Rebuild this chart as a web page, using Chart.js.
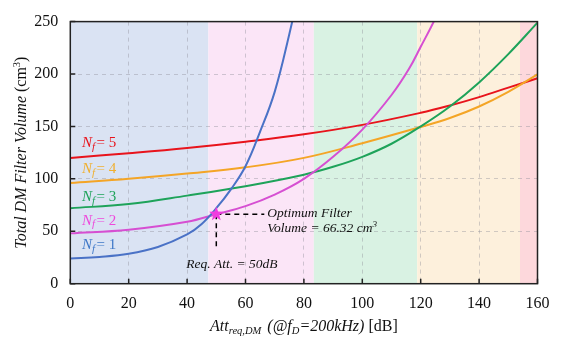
<!DOCTYPE html>
<html>
<head>
<meta charset="utf-8">
<script src="https://cdn.jsdelivr.net/npm/chart.js@4/dist/chart.umd.min.js"></script>
<style>
  html, body { margin: 0; padding: 0; background: #fff; }
  #wrap { width: 563px; height: 342px; position: relative; }
</style>
</head>
<body>
<div id="wrap"><canvas id="volChart"></canvas></div>
<script>
// Filter volume vs required attenuation, one curve per number of stages

const xTicks = [0, 20, 40, 60, 80, 100, 120, 140, 160];
const yTicks = [0, 50, 100, 150, 200, 250];

const nf1X = [0, 10, 20, 30, 40, 45, 50, 55, 60, 65, 70, 75, 80];
const nf1V = [24, 25.5, 28.5, 35, 47, 57, 72, 90, 112, 145, 183, 238, 300];

const nf2X = [0, 20, 40, 50, 60, 70, 80, 90, 100, 110, 116, 120, 125, 130];
const nf2V = [48, 51.5, 59, 66.3, 74, 85, 100, 121, 147, 180, 205, 226, 253, 285];

const nf3X = [0, 20, 40, 60, 80, 90, 100, 110, 120, 130, 140, 150, 160];
const nf3V = [72, 76, 84, 93, 104, 111.5, 121, 133.5, 150, 169, 192, 219, 249];

const nf4X = [0, 20, 40, 60, 80, 100, 120, 130, 140, 150, 160];
const nf4V = [96, 100, 105, 111, 120, 134, 149.5, 158, 169, 183, 199.6];

const nf5X = [0, 20, 40, 60, 80, 100, 120, 130, 140, 150, 160];
const nf5V = [120, 124.5, 129.5, 135.5, 142.5, 151.5, 163, 170, 178, 187, 196];

// optimum point
const optAtt = 50;
const optVol = 66.32;

// shaded regions (where the best N changes)
const regionEdges = [0, 47.3, 83.4, 118.8, 154, 160];
const regionColors = ["#dae3f3", "#fbe5f7", "#d9f2e3", "#fdf0dc", "#fdd8dc"];

const lineColors = ["#4a72c6", "#d64fd2", "#1ea35a", "#f4a526", "#e8141c"];
const labelColors = ["#3f78c8", "#ee48dc", "#1ea35a", "#f0b030", "#e8141c"];

const SERIF = '"Liberation Serif", "Times New Roman", serif';

function pts(xs, vs) {
    return xs.map((x, i) => ({ x: x, y: vs[i] }));
}

// draw text made of several styled pieces
function richText(ctx, parts, x, y, align) {
    let total = 0;
    parts.forEach(p => {
        ctx.font = p.font;
        p.w = ctx.measureText(p.t).width + (p.gap || 0);
        total += p.w;
    });
    let cx = align === "center" ? x - total / 2 : (align === "right" ? x - total : x);
    parts.forEach(p => {
        ctx.font = p.font;
        ctx.fillText(p.t, cx, y + (p.dy || 0));
        cx += p.w;
    });
}

const decorPlugin = {
    id: "decor",
    beforeDraw(chart) {
        const { ctx, chartArea: a, scales: { x } } = chart;
        ctx.save();
        for (let i = 0; i < regionColors.length; i++) {
            const x0 = x.getPixelForValue(regionEdges[i]);
            const x1 = x.getPixelForValue(regionEdges[i + 1]);
            ctx.fillStyle = regionColors[i];
            ctx.fillRect(x0, a.top, x1 - x0, a.bottom - a.top);
        }
        ctx.restore();
    },
    afterDatasetsDraw(chart) {
        const { ctx, chartArea: a, scales: { x, y } } = chart;
        const px = x.getPixelForValue(optAtt);
        const py = y.getPixelForValue(optVol);

        ctx.save();
        // dashed guide lines
        ctx.strokeStyle = "#000";
        ctx.lineWidth = 1.5;
        ctx.setLineDash([5, 4]);
        ctx.beginPath();
        ctx.moveTo(px, py);
        ctx.lineTo(px + 48, py);
        ctx.moveTo(px, py);
        ctx.lineTo(px, py + 35);
        ctx.stroke();
        ctx.setLineDash([]);

        // star marker
        ctx.fillStyle = "#f03ce0";
        ctx.beginPath();
        for (let k = 0; k < 10; k++) {
            const r = k % 2 === 0 ? 7.5 : 3.2;
            const ang = -Math.PI / 2 + k * Math.PI / 5;
            const sx = px + r * Math.cos(ang), sy = py + r * Math.sin(ang);
            if (k === 0) ctx.moveTo(sx, sy); else ctx.lineTo(sx, sy);
        }
        ctx.closePath();
        ctx.fill();

        // annotation text
        ctx.fillStyle = "#111";
        ctx.textBaseline = "middle";
        ctx.textAlign = "left";
        ctx.font = "italic 13.5px " + SERIF;
        ctx.fillText("Optimum Filter", px + 51, py - 1);
        richText(ctx, [
            { t: "Volume = 66.32 cm", font: "italic 13.5px " + SERIF },
            { t: "3", font: "italic 9px " + SERIF, dy: -4 }
        ], px + 51, py + 14, "left");
        ctx.font = "italic 13.5px " + SERIF;
        ctx.fillText("Req. Att. = 50dB", px - 30, py + 50);

        // N_f labels
        const labelY = [36.9, 60.2, 82.6, 109.6, 133.7];
        const lx = x.getPixelForValue(4);
        for (let i = 0; i < 5; i++) {
            ctx.fillStyle = labelColors[i];
            richText(ctx, [
                { t: "N", font: "italic 15px " + SERIF },
                { t: "f", font: "italic 11px " + SERIF, dy: 4, gap: 1.5 },
                { t: "= " + (i + 1), font: "15px " + SERIF }
            ], lx, y.getPixelForValue(labelY[i]), "left");
        }

        // frame and inward ticks
        ctx.strokeStyle = "#222";
        ctx.lineWidth = 1.5;
        ctx.strokeRect(a.left, a.top, a.right - a.left, a.bottom - a.top);
        ctx.beginPath();
        xTicks.forEach(v => {
            const tx = x.getPixelForValue(v);
            ctx.moveTo(tx, a.bottom);
            ctx.lineTo(tx, a.bottom - 5);
        });
        yTicks.forEach(v => {
            const ty = y.getPixelForValue(v);
            ctx.moveTo(a.left, ty);
            ctx.lineTo(a.left + 5, ty);
        });
        ctx.stroke();
        ctx.restore();
    },
    afterDraw(chart) {
        const { ctx, chartArea: a } = chart;
        ctx.save();
        ctx.fillStyle = "#111";
        ctx.textBaseline = "middle";
        // x axis title
        richText(ctx, [
            { t: "Att", font: "italic 16px " + SERIF },
            { t: "req,DM", font: "italic 10.5px " + SERIF, dy: 4, gap: 2 },
            { t: " (@f", font: "italic 16px " + SERIF },
            { t: "D", font: "italic 10.5px " + SERIF, dy: 4 },
            { t: "=200kHz)", font: "italic 16px " + SERIF },
            { t: " [dB]", font: "16px " + SERIF }
        ], (a.left + a.right) / 2, 327, "center");
        // y axis title
        ctx.translate(22, (a.top + a.bottom) / 2);
        ctx.rotate(-Math.PI / 2);
        richText(ctx, [
            { t: "Total DM Filter Volume ", font: "italic 16px " + SERIF },
            { t: "(cm", font: "16px " + SERIF },
            { t: "3", font: "10.5px " + SERIF, dy: -5 },
            { t: ")", font: "16px " + SERIF }
        ], 0, 0, "center");
        ctx.restore();
    }
};

function series(xs, vs, i) {
    return {
        data: pts(xs, vs),
        borderColor: lineColors[i],
        borderWidth: 2,
        pointRadius: 0,
        fill: false,
        tension: 0.4,
        clip: 0
    };
}

const ctx = document.getElementById("volChart").getContext("2d");
const volChart = new Chart(ctx, {
    type: "line",
    data: {
        datasets: [
            series(nf1X, nf1V, 0),
            series(nf2X, nf2V, 1),
            series(nf3X, nf3V, 2),
            series(nf4X, nf4V, 3),
            series(nf5X, nf5V, 4)
        ]
    },
    options: {
        responsive: true,
        maintainAspectRatio: false,
        animation: false,
        layout: { padding: { top: 5, right: 25.5, left: 0, bottom: 0 } },
        plugins: {
            legend: { display: false },
            tooltip: { enabled: false }
        },
        scales: {
            x: {
                type: "linear",
                min: 0,
                max: 160,
                afterBuildTicks: s => { s.ticks = xTicks.map(v => ({ value: v })); },
                afterFit: s => { s.height = 58.3; },
                grid: { color: "rgba(140,140,150,0.4)", lineWidth: 1, drawTicks: false },
                border: { display: false, dash: [4, 4] },
                ticks: { padding: 10, color: "#111", font: { family: SERIF, size: 16 }, maxRotation: 0 }
            },
            y: {
                min: 0,
                max: 250,
                afterBuildTicks: s => { s.ticks = yTicks.map(v => ({ value: v })); },
                afterFit: s => { s.width = 70.3; },
                grid: { color: "rgba(140,140,150,0.4)", lineWidth: 1, drawTicks: false },
                border: { display: false, dash: [4, 4] },
                ticks: { padding: 12, color: "#111", font: { family: SERIF, size: 16 } }
            }
        }
    },
    plugins: [decorPlugin]
});
</script>
</body>
</html>
